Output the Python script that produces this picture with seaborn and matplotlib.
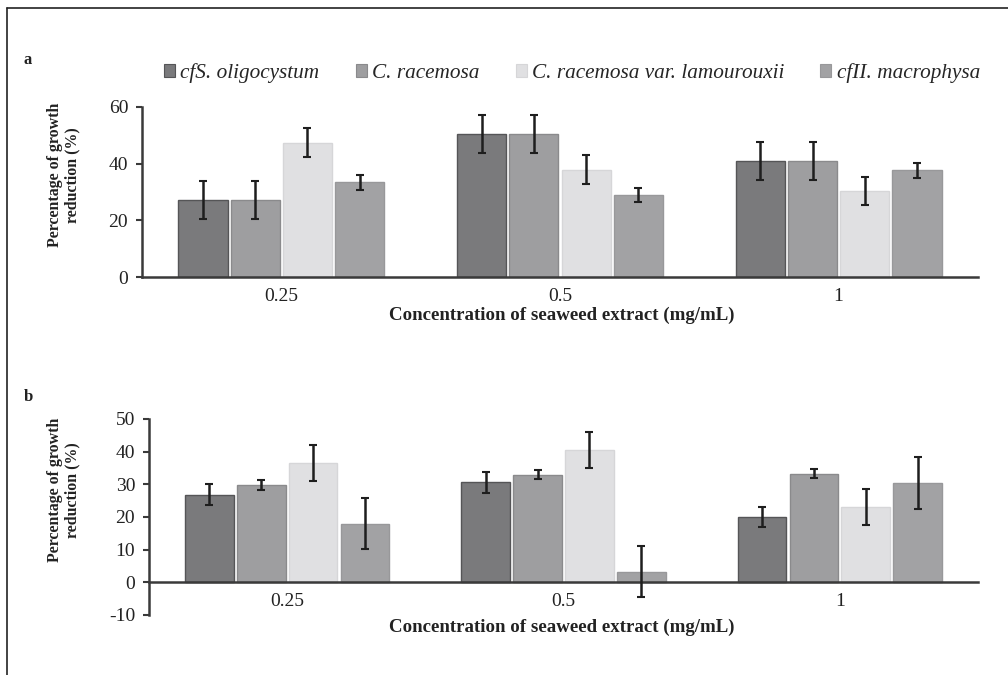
import matplotlib
matplotlib.use("Agg")
import matplotlib.pyplot as plt
from matplotlib.lines import Line2D
from matplotlib.patches import Patch
import seaborn as sns
import pandas as pd

concentrations = ["0.25", "0.5", "1"]
species = ["cfS. oligocystum", "C. racemosa", "C. racemosa var. lamourouxii", "cfII. macrophysa"]
colors = ["#7a7a7c", "#9e9ea0", "#e0e0e2", "#a2a2a4"]
edges = ["#555557", "#8a8a8c", "#d6d6d8", "#98989a"]

# Panel a
a_oligo = [27.2, 50.4, 40.9]
a_race = [27.2, 50.4, 40.9]
a_lamo = [47.4, 37.8, 30.4]
a_macro = [33.4, 28.9, 37.6]
a_oligo_err = [6.6, 6.8, 6.8]
a_race_err = [6.6, 6.8, 6.8]
a_lamo_err = [5.1, 5.1, 5.0]
a_macro_err = [2.7, 2.6, 2.5]

# Panel b
b_oligo = [26.8, 30.6, 20.0]
b_race = [29.8, 33.0, 33.2]
b_lamo = [36.5, 40.6, 23.0]
b_macro = [18.0, 3.3, 30.4]
b_oligo_err = [3.2, 3.2, 3.0]
b_race_err = [1.4, 1.4, 1.4]
b_lamo_err = [5.6, 5.5, 5.5]
b_macro_err = [7.8, 7.8, 7.9]

sns.set_theme(style="white")
plt.rcParams["font.family"] = ["Liberation Serif", "DejaVu Serif"]

def frame(values, errs):
    rows = []
    for sp, vals, es in zip(species, values, errs):
        for c, v, e in zip(concentrations, vals, es):
            rows.append({"conc": c, "species": sp, "value": v, "err": e})
    return pd.DataFrame(rows)

df_a = frame([a_oligo, a_race, a_lamo, a_macro],
             [a_oligo_err, a_race_err, a_lamo_err, a_macro_err])
df_b = frame([b_oligo, b_race, b_lamo, b_macro],
             [b_oligo_err, b_race_err, b_lamo_err, b_macro_err])

fig = plt.figure(figsize=(10.08, 6.75), dpi=100)
fig.patch.set_facecolor("white")
ax_a = fig.add_axes([0.1409, 0.5896, 0.8293, 0.2519])
ax_b = fig.add_axes([0.1478, 0.0889, 0.8224, 0.2904])

axis_col = "#3a3a3a"

def draw(ax, df, ylim, yticks):
    sns.barplot(data=df, x="conc", y="value", hue="species", hue_order=species,
                order=concentrations, palette=colors, errorbar=None,
                width=0.75, gap=0.06, ax=ax, legend=False, saturation=1)
    bar_conts = list(ax.containers)
    for k, cont in enumerate(bar_conts):
        sub = df[df["species"] == species[k]].set_index("conc").loc[concentrations]
        xs, ys = [], []
        for bar in cont:
            bar.set_edgecolor(edges[k])
            bar.set_linewidth(1.0)
            xs.append(bar.get_x() + bar.get_width() / 2)
            ys.append(bar.get_height())
        ax.errorbar(xs, ys, yerr=sub["err"].values, fmt="none", ecolor="#1e1e1e",
                    elinewidth=1.8, capsize=2.8, capthick=1.5, zorder=5)
    ax.set_xlim(-0.5, 2.5)
    ax.set_ylim(*ylim)
    ax.set_yticks(yticks)
    ax.set_yticklabels([str(t) for t in yticks])
    ax.set_xticks([-0.5, 0.5, 1.5, 2.5])
    ax.set_xticklabels([])
    ax.set_xticks([0, 1, 2], minor=True)
    ax.set_xticklabels(concentrations, minor=True)
    ax.tick_params(axis="x", which="major", direction="out", length=4, width=1.5, color=axis_col)
    ax.tick_params(axis="x", which="minor", length=0, labelsize=14, pad=8, labelcolor="#222")
    ax.tick_params(axis="y", direction="out", length=4, width=1.5, color=axis_col,
                   labelsize=14, labelcolor="#222", pad=6, left=True)
    for s in ["top", "right"]:
        ax.spines[s].set_visible(False)
    for s in ["left", "bottom"]:
        ax.spines[s].set_color(axis_col)
        ax.spines[s].set_linewidth(1.8)
    ax.spines["bottom"].set_position(("data", 0))
    ax.set_xlabel("")
    ax.set_ylabel("")
    ax.set_facecolor("none")

draw(ax_a, df_a, (0, 60), [0, 20, 40, 60])
draw(ax_b, df_b, (-10, 50), [-10, 0, 10, 20, 30, 40, 50])

xlab = "Concentration of seaweed extract (mg/mL)"
fig.text(562 / 1008, 1 - 315 / 675, xlab, ha="center", va="center", fontsize=13.6, fontweight="bold", color="#222")
fig.text(562 / 1008, 1 - 627 / 675, xlab, ha="center", va="center", fontsize=13.6, fontweight="bold", color="#222")

ylab = "Percentage of growth\nreduction (%)"
fig.text(63.5 / 1008, 1 - 175 / 675, ylab, ha="center", va="center", rotation=90, fontsize=11.4,
         fontweight="bold", color="#222", multialignment="center", linespacing=1.15)
fig.text(63.5 / 1008, 1 - 490 / 675, ylab, ha="center", va="center", rotation=90, fontsize=11.4,
         fontweight="bold", color="#222", multialignment="center", linespacing=1.15)

fig.text(28 / 1008, 1 - 60 / 675, "a", fontsize=12, fontweight="bold", ha="center", va="center", color="#222")
fig.text(28 / 1008, 1 - 397 / 675, "b", fontsize=12, fontweight="bold", ha="center", va="center", color="#222")

handles = [Patch(facecolor=c, edgecolor=e, linewidth=0.8) for c, e in zip(colors, edges)]
leg = fig.legend(handles, species, loc="center", bbox_to_anchor=(572 / 1008, 1 - 73 / 675), ncol=4,
                 frameon=False, prop={"style": "italic", "size": 15.3},
                 handlelength=0.52, handleheight=0.52, handletextpad=0.25, columnspacing=1.7)

fig.add_artist(Line2D([7 / 1008, 1.0], [1 - 8 / 675, 1 - 8 / 675], color="#222", linewidth=1.2))
fig.add_artist(Line2D([7 / 1008, 7 / 1008], [0.0, 1 - 8 / 675], color="#222", linewidth=1.2))

fig.savefig("out.png", dpi=100, facecolor="white")
